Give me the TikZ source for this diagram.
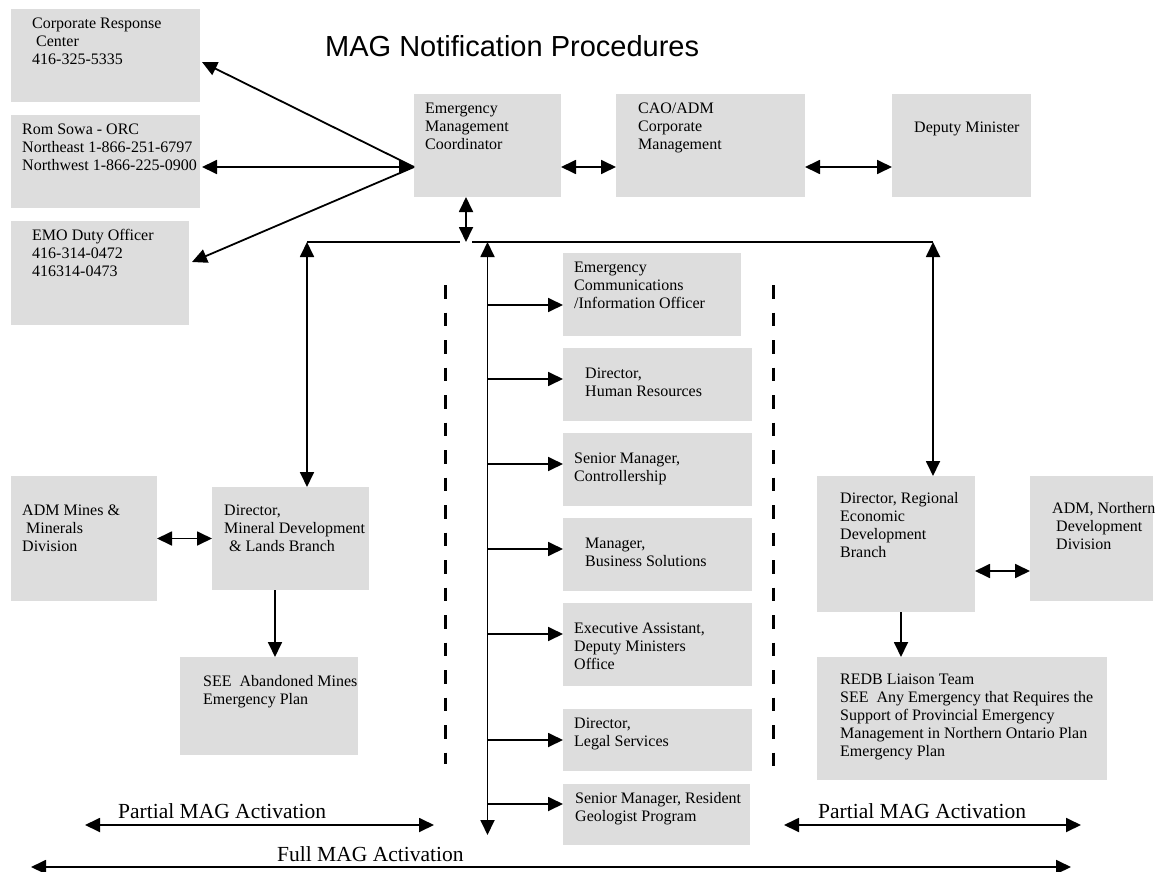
\documentclass[tikz,border=0pt]{standalone}
\usepackage{fontspec}
\usetikzlibrary{arrows.meta,calc}
\newfontfamily\tnr{Liberation Serif}
\newfontfamily\ars{Liberation Sans}
\definecolor{boxgray}{RGB}{221,221,221}
\tikzset{
  gb/.style={fill=boxgray, draw=none, inner sep=0pt, outer sep=0pt},
  tx/.style={anchor=north west, align=left, inner sep=0pt, font=\tnr\fontsize{16}{18}\selectfont},
  lbl/.style={anchor=base west, inner sep=0pt, font=\tnr\fontsize{21.5}{24}\selectfont},
  conn/.style={line width=1.8pt},
  one/.style={conn, -{Triangle[length=15pt,width=14pt]}},
  two/.style={conn, {Triangle[length=15pt,width=14pt]}-{Triangle[length=15pt,width=14pt]}},
  sep/.style={line width=3pt, dash pattern=on 13.5pt off 14pt}
}
\newcommand\gbox[8]{%
  \node[gb, minimum width={(#4-#2)*1pt}, minimum height={(#5-#3)*1pt}] (#1) at ({(#2+#4)/2},{(#3+#5)/2}) {};
  \node[tx] (#1-t) at (#6,{#7-12}) {\rule{0pt}{12pt}#8};
}
\begin{document}
\begin{tikzpicture}[x=1pt,y=-1pt]
\useasboundingbox (0,0) rectangle (1157,872);

\node[anchor=base west, inner sep=0pt, font=\ars\fontsize{29}{34}\selectfont] (title) at (325,57) {MAG Notification Procedures};

\gbox{crc}{11}{9}{200}{102}{32}{28}{Corporate Response\\\hspace{4pt}Center\\416-325-5335}
\gbox{rom}{11}{115}{200}{208}{22}{134}{Rom Sowa - ORC\\Northeast 1-866-251-6797\\Northwest 1-866-225-0900}
\gbox{emo}{11}{221}{189}{325}{32}{240}{EMO Duty Officer\\416-314-0472\\416314-0473}
\gbox{emc}{414}{94}{561}{197}{425}{113}{Emergency\\Management\\Coordinator}
\gbox{cao}{616}{94}{805}{197}{638}{113}{CAO/ADM\\Corporate\\Management}
\gbox{dm}{892}{94}{1031}{197}{914}{132}{Deputy Minister}
\gbox{ecio}{563}{253}{741}{336}{574}{272}{Emergency\\Communications\\/Information Officer}
\gbox{hr}{563}{348}{752}{421}{585}{378}{Director,\\Human Resources}
\gbox{ctl}{563}{433}{752}{506}{574}{463}{Senior Manager,\\Controllership}
\gbox{bs}{563}{518}{752}{591}{585}{548}{Manager,\\Business Solutions}
\gbox{ea}{563}{603}{752}{686}{574}{633}{Executive Assistant,\\Deputy Ministers\\Office}
\gbox{legal}{563}{709}{752}{771}{574}{728}{Director,\\Legal Services}
\gbox{rgp}{563}{784}{750}{845}{575}{803}{Senior Manager, Resident\\Geologist Program}
\gbox{adm}{11}{476}{157}{601}{22}{515}{ADM Mines \&\\\hspace{4pt}Minerals\\Division}
\gbox{dmd}{212}{487}{369}{590}{224}{515}{Director,\\Mineral Development\\\hspace{5pt}\& Lands Branch}
\gbox{see}{180}{657}{358}{755}{203}{686}{SEE\ \ Abandoned Mines\\Emergency Plan}
\gbox{drr}{817}{476}{975}{612}{840}{503}{Director, Regional\\Economic\\Development\\Branch}
\gbox{adn}{1030}{476}{1153}{601}{1052}{513}{ADM, Northern\\\hspace{4pt}Development\\\hspace{4pt}Division}
\gbox{redb}{817}{657}{1107}{780}{840}{684}{REDB Liaison Team\\SEE\ \ Any Emergency that Requires the\\Support of Provincial Emergency\\Management in Northern Ontario Plan\\Emergency Plan}

% left fan from EMC
\coordinate (emcL) at ([yshift=-21.5pt]emc.west);
\draw[one] (emcL) -- ([xshift=2pt,yshift=-6.5pt]crc.east);
\draw[two] (emcL) -- ([xshift=2pt,yshift=-5.5pt]rom.east);
\draw[one] (emcL) -- ([xshift=3pt,yshift=11pt]emo.east);

% top row
\draw[two] ([yshift=-21.5pt]emc.east) -- ([yshift=-21.5pt]cao.west);
\draw[two] ([yshift=-21.5pt]cao.east) -- ([yshift=-21.5pt]dm.west);

% bus
\coordinate (busL) at (307,242);
\coordinate (busR) at (933,242);
\coordinate (gapL) at (460,242);
\coordinate (gapR) at (472,242);
\draw[conn] (busL) -- (gapL);
\draw[conn] (gapR) -- (busR);
\coordinate (emcD) at ([xshift=-21.5pt]emc.south);
\draw[two] (emcD) -- (emcD |- busL);

% left and right branches
\draw[two] (busL) -- (busL |- dmd.north);
\draw[two] (busR) -- (busR |- drr.north);

% centre trunk
\coordinate (trunkTop) at (emc.south |- busL);
\coordinate (trunkBot) at (emc.south |- 0,835);
\draw[two] (trunkTop) -- (trunkBot);
\foreach \n/\s in {ecio/-10.5,hr/5.5,ctl/5.5,bs/5.5,ea/10.5,legal/0,rgp/10.5}{
  \coordinate (\n-in) at ([yshift=\s pt]\n.west);
  \draw[one] (trunkTop |- \n-in) -- (\n-in);
}

% lower left
\draw[two] (adm.east) -- (dmd.west);
\coordinate (dmdD) at ([xshift=-15.5pt]dmd.south);
\draw[one] (dmdD) -- (dmdD |- see.north);

% lower right
\coordinate (drrR) at ([yshift=-27pt]drr.east);
\draw[two] (drrR) -- (drrR -| adn.west);
\coordinate (drrD) at ([xshift=5pt]drr.south);
\draw[one] (drrD) -- (drrD |- redb.north);

% separators
\coordinate (sepLt) at (445,285);
\coordinate (sepLb) at (445,764);
\coordinate (sepRt) at (773,285);
\coordinate (sepRb) at (773,772);
\draw[sep] (sepLt) -- (sepLb);
\draw[sep] (sepRt) -- (sepRb);

% activation ranges
\coordinate (pl1) at (85,825);
\coordinate (pl2) at (434,825);
\coordinate (pr1) at (784,825);
\coordinate (pr2) at (1081,825);
\coordinate (f1) at (31,867);
\coordinate (f2) at (1071,867);
\draw[two] (pl1) -- (pl2);
\draw[two] (pr1) -- (pr2);
\draw[two] (f1) -- (f2);
\node[lbl] (plt) at (118,818) {Partial MAG Activation};
\node[lbl] (prt) at (818,818) {Partial MAG Activation};
\node[lbl] (ft) at (277,861) {Full MAG Activation};
\end{tikzpicture}
\end{document}
